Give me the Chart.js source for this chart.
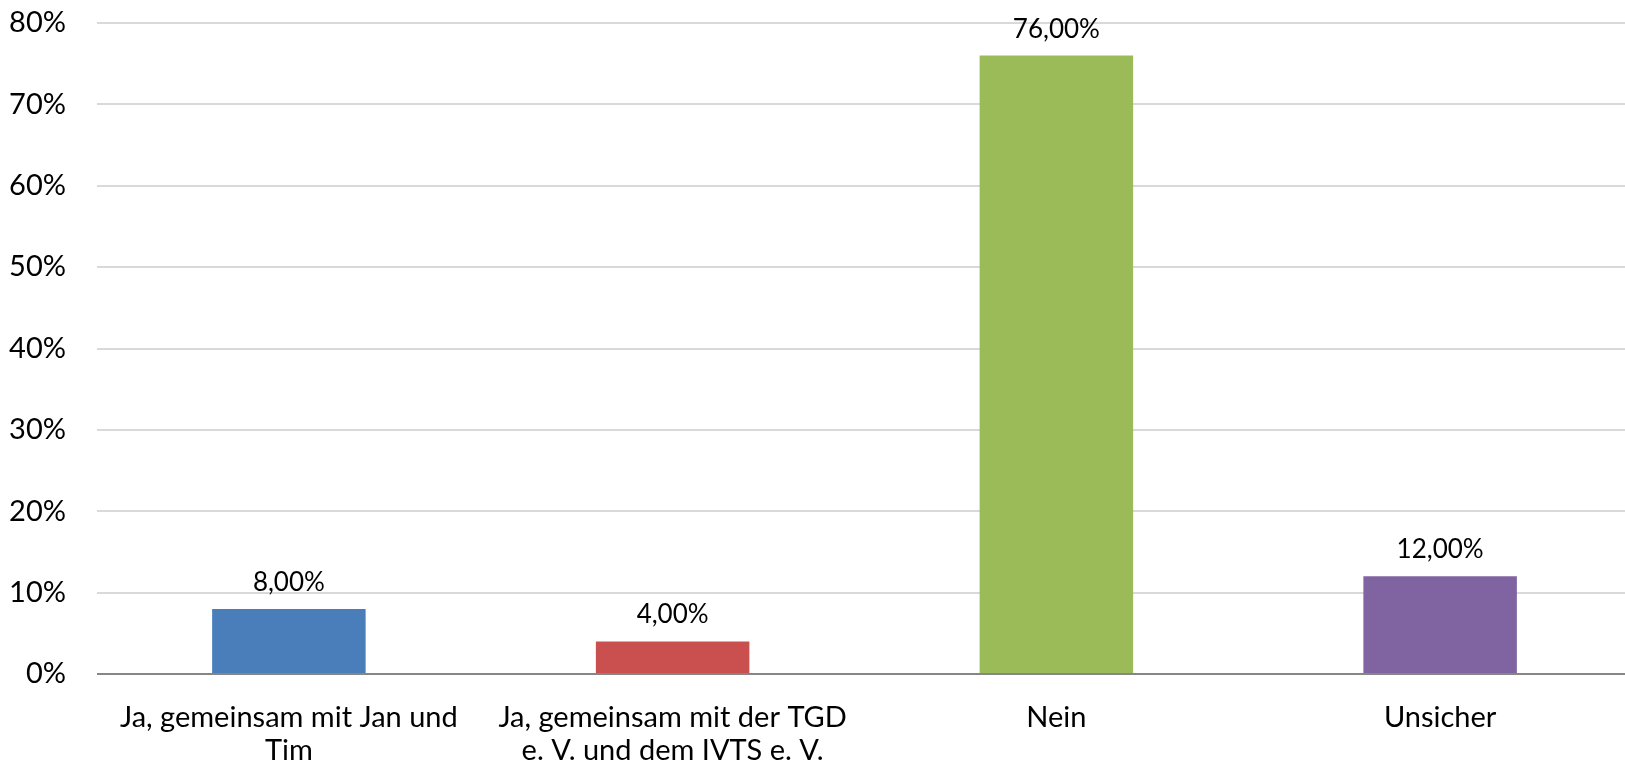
<!DOCTYPE html>
<html>
<head>
<meta charset="utf-8">
<script src="https://cdn.jsdelivr.net/npm/chart.js@4"></script>
<style>
  html, body { margin: 0; padding: 0; background: #ffffff; overflow: hidden; width: 1625px; height: 769px; }
  #wrap { position: relative; width: 1632px; height: 769px; }
  canvas { display: block; }
</style>
</head>
<body>
<div id="wrap"><canvas id="c" width="1632" height="769"></canvas></div>
<script>
const categories = [
  ['Ja, gemeinsam mit Jan und', 'Tim'],
  ['Ja, gemeinsam mit der TGD', 'e. V. und dem IVTS e. V.'],
  'Nein',
  'Unsicher'
];
const values = [8, 4, 76, 12];
const barColors = ['#4A7EBB', '#C9504F', '#9BBB59', '#8064A2'];
const yTickMax = 80;
const yTickStep = 10;

const FONT = 'Lato, "Open Sans", sans-serif';

const dataLabels = {
  id: 'dataLabels',
  afterDatasetsDraw(chart) {
    const ctx = chart.ctx;
    const meta = chart.getDatasetMeta(0);
    ctx.save();
    ctx.font = '26px ' + FONT;
    ctx.fillStyle = '#000000';
    ctx.textAlign = 'center';
    ctx.textBaseline = 'alphabetic';
    meta.data.forEach((el, i) => {
      const v = chart.data.datasets[0].data[i];
      const txt = v.toFixed(2).replace('.', ',') + '%';
      ctx.fillText(txt, el.x, el.y - 18);
    });
    ctx.restore();
  }
};

new Chart(document.getElementById('c'), {
  type: 'bar',
  data: {
    labels: categories,
    datasets: [{
      data: values,
      backgroundColor: barColors,
      borderWidth: 0,
      barPercentage: 0.4,
      categoryPercentage: 1.0
    }]
  },
  options: {
    responsive: false,
    animation: false,
    devicePixelRatio: 1,
    layout: { padding: { top: 23, left: 0, right: 0, bottom: 0 } },
    plugins: { legend: { display: false }, tooltip: { enabled: false } },
    scales: {
      x: {
        grid: { display: false, drawTicks: false },
        border: { display: false },
        ticks: {
          color: '#000000',
          font: { family: FONT, size: 29, lineHeight: 33 / 29 },
          padding: 27,
          maxRotation: 0,
          autoSkip: false
        },
        afterFit(scale) { scale.height = 95; scale.paddingLeft = 0; scale.paddingRight = 0; }
      },
      y: {
        min: 0,
        max: yTickMax,
        grid: {
          drawTicks: false,
          lineWidth: 2,
          color: (ctx) => (ctx.tick && ctx.tick.value === 0 ? '#868686' : '#D9D9D9')
        },
        border: { display: false },
        ticks: {
          stepSize: yTickStep,
          color: '#000000',
          font: { family: FONT, size: 29 },
          padding: 31,
          callback: (v) => v + '%'
        },
        afterFit(scale) { scale.width = 97; scale.paddingTop = 0; scale.paddingBottom = 0; }
      }
    }
  },
  plugins: [dataLabels]
});
</script>
</body>
</html>
